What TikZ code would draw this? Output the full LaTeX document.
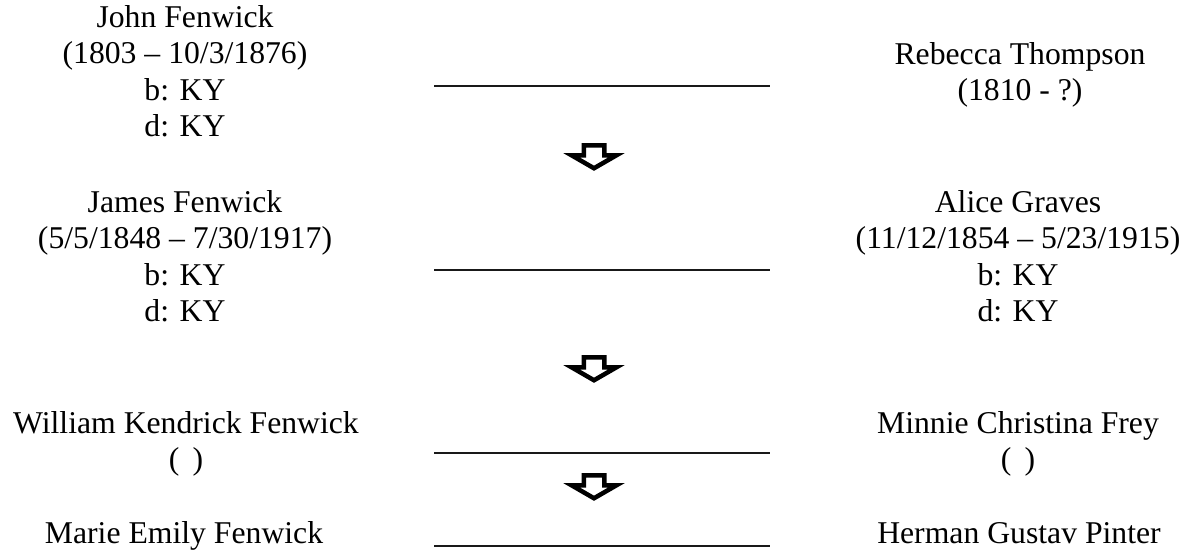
\documentclass[tikz,border=0pt]{standalone}
\usepackage{fontspec}
\setmainfont{Liberation Serif}
\usetikzlibrary{shapes.arrows}

\begin{document}
\begin{tikzpicture}[
  person/.style={anchor=base, align=center, inner sep=0pt, font=\fontsize{31.7pt}{36.5pt}\selectfont},
  bond/.style={line width=1.5pt, color=black!90},
  down/.style={single arrow, rotate=-90, anchor=tail, draw=black, fill=white, line width=4.5pt, inner xsep=0pt, inner ysep=8pt, single arrow head extend=12pt, single arrow tip angle=120, minimum height=23pt}]
\useasboundingbox (0pt, 0pt) rectangle (1192pt, -552pt);
% the base of each name block is its last line
\node (1) [person] at (185pt, -136.5pt) {John Fenwick\\(1803 – 10/3/1876)\\b: KY\\d: KY};
\node (2) [person] at (1020pt, -100.5pt) {Rebecca Thompson\\(1810 - ?)};
\node (3) [person] at (185pt, -321.5pt) {James Fenwick\\(5/5/1848 – 7/30/1917)\\b: KY\\d: KY};
\node (4) [person] at (1018pt, -321.5pt) {Alice Graves\\(11/12/1854 – 5/23/1915)\\b: KY\\d: KY};
\node (5) [person] at (186pt, -469.5pt) {William Kendrick Fenwick\\( \,)};
\node (6) [person] at (1018pt, -469.5pt) {Minnie Christina Frey\\( \,)};
\node (7) [person] at (184pt, -543pt) {Marie Emily Fenwick};
\node (8) [person] at (1019pt, -543pt) {Herman Gustav Pinter};
\coordinate (b1l) at (434pt, -86pt);
\coordinate (b1r) at (770pt, -86pt);
\coordinate (b2l) at (434pt, -270pt);
\coordinate (b2r) at (770pt, -270pt);
\coordinate (b3l) at (434pt, -453pt);
\coordinate (b3r) at (770pt, -453pt);
\coordinate (b4l) at (434pt, -546pt);
\coordinate (b4r) at (770pt, -546pt);
\draw [bond] (b1l) to (b1r);
\draw [bond] (b2l) to (b2r);
\draw [bond] (b3l) to (b3r);
\draw [bond] (b4l) to (b4r);
\node (a1) [down] at (594pt, -143pt) {};
\node (a2) [down] at (594pt, -355pt) {};
\node (a3) [down] at (594pt, -473pt) {};
\end{tikzpicture}
\end{document}
